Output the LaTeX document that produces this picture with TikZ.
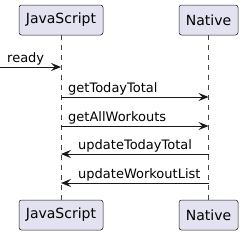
\documentclass[tikz,border=0pt]{standalone}
\usepackage{fontspec}
\setmainfont{DejaVu Sans}
\usetikzlibrary{arrows.meta,positioning}
\definecolor{boxfill}{HTML}{E2E2F0}
\definecolor{boxline}{HTML}{181818}
\definecolor{ink}{HTML}{000000}
\tikzset{
  >={Stealth[length=10pt,width=8pt,inset=4pt]},
  actor/.style={draw=boxline,fill=boxfill,rounded corners=2.5pt,line width=0.5pt,
    minimum height=30pt,inner xsep=0pt,font=\fontsize{14}{16}\selectfont,text=ink},
  life/.style={draw=boxline!80,dash pattern=on 5pt off 5pt,line width=0.5pt},
  msg/.style={->,draw=boxline,line width=1pt},
  lbl/.style={font=\fontsize{13}{15}\selectfont,anchor=base west,inner sep=0pt,text=ink},
}
\begin{document}
\begin{tikzpicture}[x=1pt,y=1pt]
  \useasboundingbox (0,0) rectangle (243,-236);
  % participants, top and bottom
  \node[actor,minimum width=84pt] (js) at (61,-20) {JavaScript};
  \node[actor,minimum width=59pt] (nat) at (208.5,-20) {Native};
  \node[actor,minimum width=84pt] (jsb) at (61,-215) {JavaScript};
  \node[actor,minimum width=59pt] (natb) at (208.5,-215) {Native};
  \draw[life] (js) -- (jsb);
  \draw[life] (nat) -- (natb);
  % incoming message
  \coordinate (start) at (0,-67);
  \draw[msg] (start) -- (js |- start);
  \node[lbl] (lready) at ([xshift=7pt,yshift=5pt]start) {ready};
  % calls to native
  \foreach \y/\t [count=\i] in {97/getTodayTotal,126/getAllWorkouts}{
    \coordinate (c\i) at (js |- 0,-\y);
    \draw[msg] (c\i) -- (nat |- c\i);
    \node[lbl] (lc\i) at ([xshift=7pt,yshift=5pt]c\i) {\t};
  }
  % callbacks from native
  \foreach \y/\t [count=\i] in {154/updateTodayTotal,183/updateWorkoutList}{
    \coordinate (r\i) at (nat |- 0,-\y);
    \draw[msg] (r\i) -- (js |- r\i);
    \node[lbl] (lr\i) at ([xshift=17pt,yshift=5pt]js |- r\i) {\t};
  }
\end{tikzpicture}
\end{document}
